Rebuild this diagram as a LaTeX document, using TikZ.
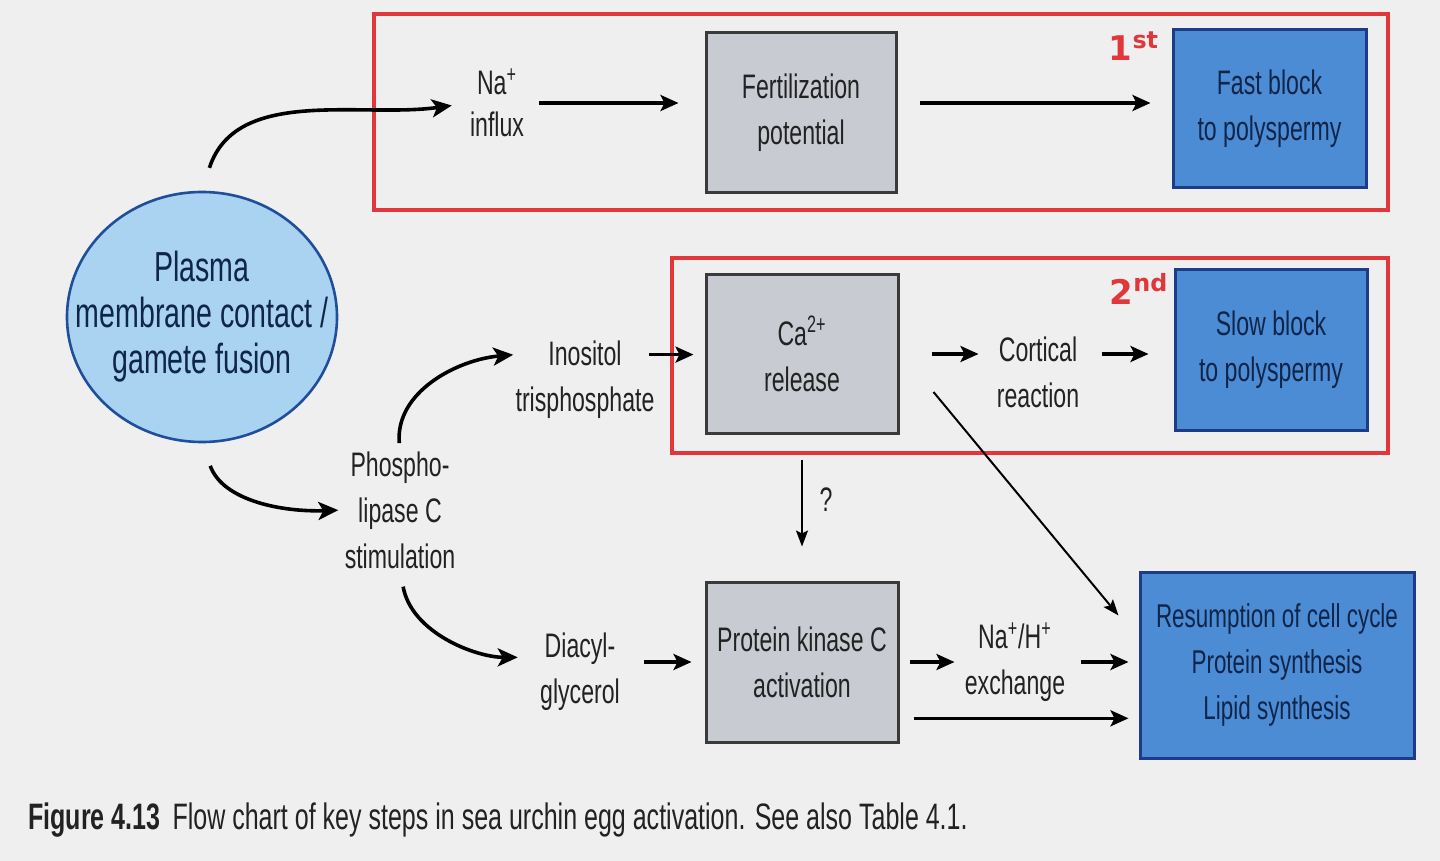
\documentclass[tikz,border=0pt]{standalone}
\usepackage{fontspec}
\setmainfont{Liberation Sans}[FakeStretch=0.68]
\newfontfamily\annotfont{DejaVu Sans}
\usetikzlibrary{arrows.meta,shapes.geometric,calc}
\definecolor{bgc}{HTML}{EFEFEF}
\definecolor{redc}{HTML}{E0383A}
\definecolor{grayfill}{HTML}{C9CBD3}
\definecolor{grayedge}{HTML}{3A3A3A}
\definecolor{bluefill}{HTML}{4C8CD4}
\definecolor{blueedge}{HTML}{1C3C88}
\definecolor{ellfill}{HTML}{A9D3F0}
\definecolor{elledge}{HTML}{1F4F9A}
\definecolor{txt}{HTML}{222222}
\definecolor{bluetxt}{HTML}{10254A}
\tikzset{
  redgroup/.style={draw=redc, line width=1.6pt},
  gbox/.style={draw=grayedge, fill=grayfill, line width=1.5pt, minimum width=95pt, minimum height=79pt, align=center, text=txt, font=\fontsize{17}{23}\selectfont, inner sep=0pt},
  bbox/.style={draw=blueedge, fill=bluefill, line width=1.5pt, minimum width=96.5pt, minimum height=79pt, align=center, text=bluetxt, font=\fontsize{17}{23}\selectfont, inner sep=0pt},
  ellnode/.style={ellipse, draw=elledge, fill=ellfill, line width=1.3pt, minimum width=135pt, minimum height=125pt, inner sep=0pt},
  lbl/.style={align=center, text=txt, font=\fontsize{17}{23}\selectfont, inner sep=0pt},
  rank/.style={text=redc, font=\annotfont\bfseries\fontsize{17}{20}\selectfont, inner sep=0pt},
  arr/.style={line width=1.6pt, -{Stealth[length=9pt, width=8pt, inset=2pt]}},
  carr/.style={line width=1.8pt, -{Stealth[length=10pt, width=9pt, inset=2.5pt]}},
  tarr/.style={line width=1pt, -{Stealth[length=8pt, width=6pt, inset=1.5pt]}},
}
\begin{document}
\begin{tikzpicture}[x=0.5pt,y=-0.5pt]
\fill[bgc] (0,0) rectangle (1440,861);
\useasboundingbox (0,0) rectangle (1440,861);

% red group boxes
\node[redgroup, minimum width=507pt, minimum height=98pt] (grp1) at (881,112) {};
\node[redgroup, minimum width=358pt, minimum height=97.5pt] (grp2) at (1030,355.5) {};

% main nodes
\node[ellnode] (pm) at (202,317) {};
\node[align=center, text=bluetxt, font=\fontsize{21}{23}\selectfont, inner sep=0pt] (pmtext) at (pm.center) {Plasma\\membrane contact /\\gamete fusion};
\node[lbl, font=\fontsize{17}{21}\selectfont] (na) at (497,103) {Na\textsuperscript{+}\\influx};
\node[gbox, minimum height=80pt] (fert) at (801,113) {Fertilization\\potential};
\node[bbox] (fast) at (1269.5,109) {Fast block\\to polyspermy};
\node[gbox, minimum width=96pt] (ca) at (802,354) {Ca\textsuperscript{2+}\\release};
\node[bbox, minimum width=96pt, minimum height=80pt] (slow) at (1271,350) {Slow block\\to polyspermy};
\node[gbox, minimum width=96pt, minimum height=80pt] (pkc) at (802,662) {Protein kinase C\\activation};
\node[bbox, minimum width=137pt, minimum height=93pt, font=\fontsize{16.5}{23}\selectfont] (res) at (1277,665) {Resumption of cell cycle\\Protein synthesis\\Lipid synthesis};
\node[lbl] (ino) at (585,380) {Inositol\\trisphosphate};
\node[lbl] (pho) at (400,510) {Phospho-\\lipase C\\stimulation};
\node[lbl] (dia) at (580,672) {Diacyl-\\glycerol};
\node[lbl] (cort) at (1038,372) {Cortical\\reaction};
\node[lbl] (nah) at (1015,662) {Na\textsuperscript{+}/H\textsuperscript{+}\\exchange};
\node[lbl] (q) at (826,500) {?};
\node[rank] (first) at (1134,46) {1\textsuperscript{st}};
\node[rank] (second) at (1139,289) {2\textsuperscript{nd}};
\node[anchor=west, text=txt, inner sep=0pt, font=\fontsize{18.4}{22}\selectfont] (cap) at (28,820) {\textbf{Figure 4.13}\hspace{6pt}Flow chart of key steps in sea urchin egg activation. See also Table 4.1.};

% connectors
\draw[carr, shorten <=12pt, shorten >=9pt] (pm.north) to[out=72, in=188] (na.west);
\draw[arr, shorten <=7.5pt, shorten >=13pt] (na.east) -- (na.east -| fert.west);
\draw[arr, shorten <=11pt, shorten >=10.5pt] (na.east -| fert.east) -- (na.east -| fast.west);
\draw[carr, shorten <=12pt, shorten >=3pt] (pm.south) to[out=-70, in=182] (pho.west);
\draw[carr, shorten <=4pt, shorten >=1pt] (pho.north) to[out=95, in=185] (ino.160);
\draw[carr, shorten <=9pt, shorten >=11pt] (pho.south) to[out=-80, in=180] (dia.160);
\draw[arr, shorten <=-3pt, shorten >=5.5pt] (ino.20) -- (ino.20 -| ca.west);
\draw[arr, shorten <=12pt, shorten >=6.5pt] (pkc.west -| dia.east) -- (pkc.west);
\draw[tarr, shorten <=12.5pt, shorten >=17pt] (ca.south) -- (pkc.north);
\draw[arr, shorten <=16pt, shorten >=9pt] (ca.east) -- (ca.east -| cort.west);
\draw[arr, shorten <=11pt, shorten >=12.5pt] (ca.east -| cort.east) -- (ca.east -| slow.west);
\draw[tarr] ([shift={(34,38)}]ca.east) -- ([shift={(-20,45)}]res.north west);
\draw[arr, shorten <=5pt, shorten >=5pt] (pkc.east) -- (pkc.east -| nah.west);
\draw[arr, shorten <=7.5pt, shorten >=5pt] (pkc.east -| nah.east) -- (pkc.east -| res.west);
\draw[arr, shorten <=7pt, shorten >=5pt] (pkc.-30) -- (pkc.-30 -| res.west);
\end{tikzpicture}
\end{document}
